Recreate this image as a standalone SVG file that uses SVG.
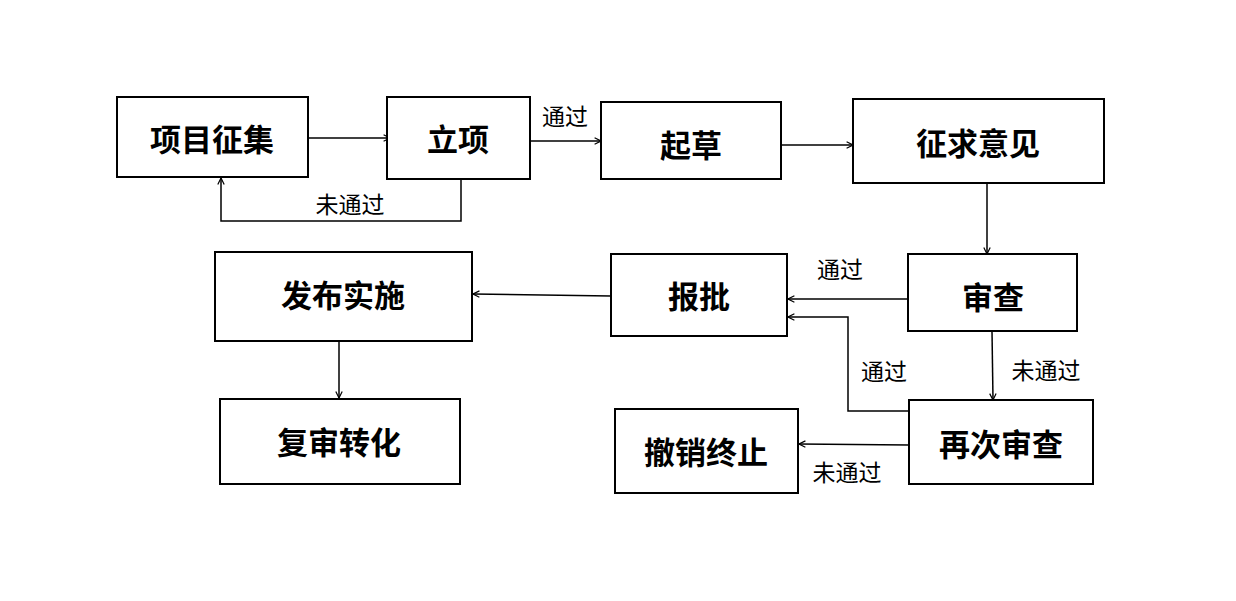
<svg xmlns="http://www.w3.org/2000/svg" width="1236" height="601" viewBox="0 0 1236 601">
<style>
.box{fill:#fff;stroke:#000;stroke-width:2}
.t{font-family:"Liberation Serif","Noto Sans CJK SC",serif;font-size:31px;font-weight:bold;text-anchor:middle;dominant-baseline:central;fill:#000}
.l{font-family:"Liberation Serif","Noto Sans CJK SC",serif;font-size:23px;text-anchor:middle;dominant-baseline:central;fill:#000}
.c{fill:none;stroke:#000;stroke-width:1.5}
</style>
<defs>
<marker id="a" viewBox="0 0 10 10" refX="9" refY="5" markerWidth="8" markerHeight="8" markerUnits="userSpaceOnUse" orient="auto">
<polyline points="1,1 9,5 1,9" fill="none" stroke="#000" stroke-width="1.5"/>
</marker>
</defs>
<rect width="1236" height="601" fill="#fff"/>
<g id="connectors">
<line class="c" x1="308" y1="138" x2="390" y2="138" marker-end="url(#a)"/>
<line class="c" x1="530" y1="141" x2="601" y2="141" marker-end="url(#a)"/>
<line class="c" x1="781" y1="145" x2="853" y2="145" marker-end="url(#a)"/>
<line class="c" x1="987" y1="183" x2="987" y2="254" marker-end="url(#a)"/>
<polyline class="c" points="461,179 461,221 221,221 221,178" marker-end="url(#a)"/>
<line class="c" x1="908" y1="299" x2="788" y2="299" marker-end="url(#a)"/>
<line class="c" x1="992" y1="331" x2="993" y2="400" marker-end="url(#a)"/>
<polyline class="c" points="909,411 848,411 848,317 788,317" marker-end="url(#a)"/>
<line class="c" x1="909" y1="445" x2="799" y2="444" marker-end="url(#a)"/>
<line class="c" x1="611" y1="296" x2="473" y2="294" marker-end="url(#a)"/>
<line class="c" x1="339" y1="341" x2="339" y2="398" marker-end="url(#a)"/>
<text class="l" x="565" y="117">通过</text>
<text class="l" x="350" y="205">未通过</text>
<text class="l" x="840" y="270">通过</text>
<text class="l" x="1046" y="371">未通过</text>
<text class="l" x="884" y="372">通过</text>
<text class="l" x="847" y="473">未通过</text>
</g>
<g id="n1"><rect class="box" x="117" y="97" width="191" height="80"/><text class="t" x="212" y="140">项目征集</text></g>
<g id="n2"><rect class="box" x="387" y="97" width="143" height="82"/><text class="t" x="458" y="140">立项</text></g>
<g id="n3"><rect class="box" x="601" y="102" width="180" height="77"/><text class="t" x="691" y="146">起草</text></g>
<g id="n4"><rect class="box" x="853" y="99" width="251" height="84"/><text class="t" x="978" y="144">征求意见</text></g>
<g id="n5"><rect class="box" x="908" y="254" width="169" height="77"/><text class="t" x="993" y="298">审查</text></g>
<g id="n6"><rect class="box" x="611" y="254" width="176" height="82"/><text class="t" x="699" y="297">报批</text></g>
<g id="n7"><rect class="box" x="215" y="252" width="257" height="89"/><text class="t" x="343" y="296">发布实施</text></g>
<g id="n8"><rect class="box" x="220" y="399" width="240" height="85"/><text class="t" x="339" y="443">复审转化</text></g>
<g id="n9"><rect class="box" x="909" y="400" width="184" height="84"/><text class="t" x="1001" y="445">再次审查</text></g>
<g id="n10"><rect class="box" x="615" y="409" width="183" height="84"/><text class="t" x="706" y="453">撤销终止</text></g>
</svg>
